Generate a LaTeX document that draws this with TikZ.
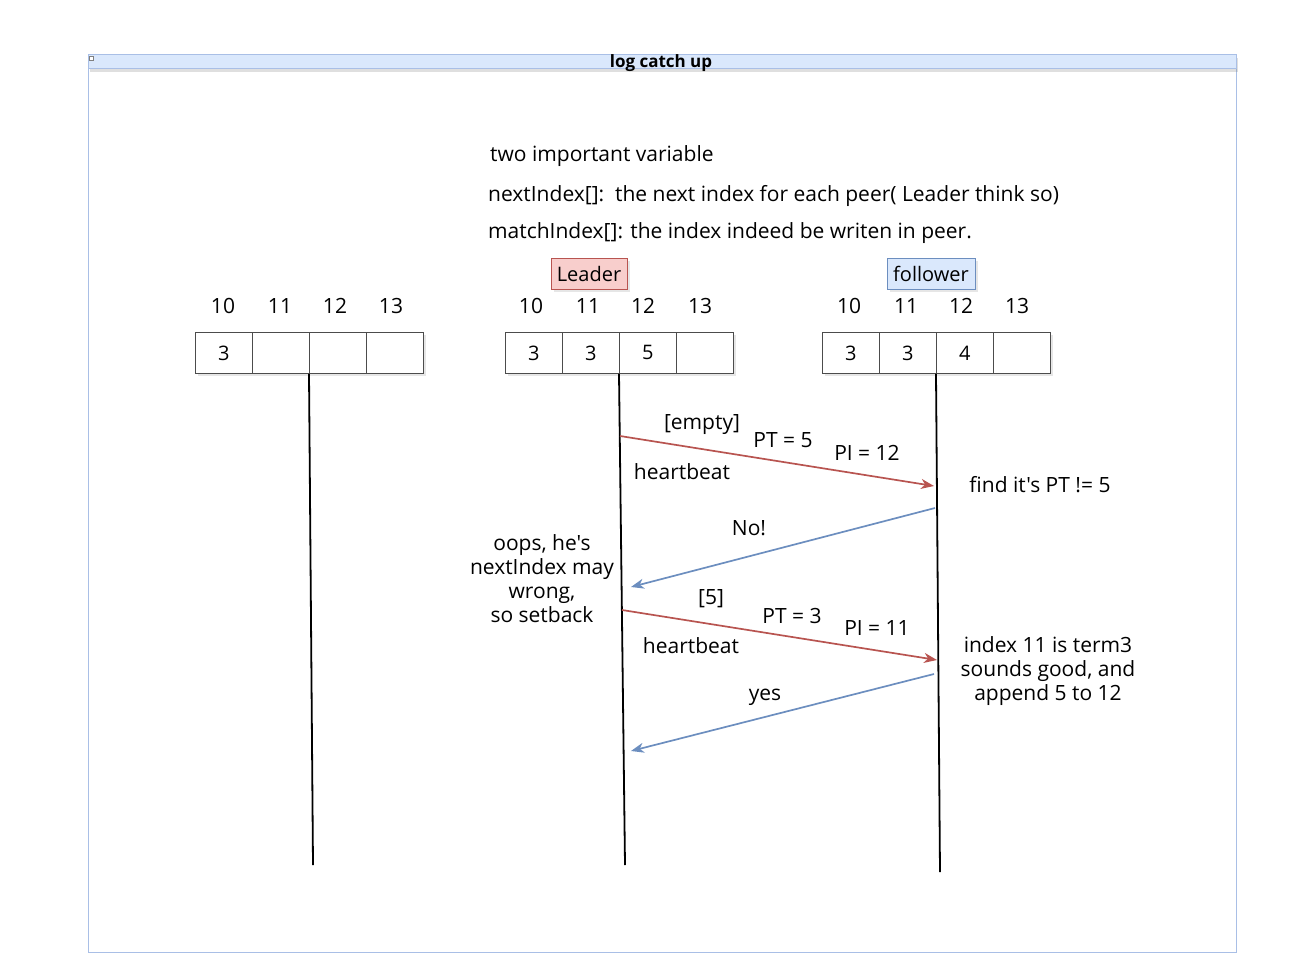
\documentclass[tikz,border=0pt]{standalone}
\usepackage{fontspec}
\setmainfont{Open Sans}[Ligatures=TeXOff]
\usetikzlibrary{arrows.meta,shadows}
\definecolor{redln}{HTML}{B85450}
\definecolor{redfill}{HTML}{F8CECC}
\definecolor{blueln}{HTML}{6C8EBF}
\definecolor{bluefill}{HTML}{DAE8FC}
\definecolor{framecol}{HTML}{A9BFE6}
\begin{document}
\begin{tikzpicture}[x=1pt,y=-1pt,
  txt/.style={font=\fontsize{21}{24}\selectfont, inner sep=0pt, text=black, align=center},
  cell/.style={draw=black!70, line width=0.8pt, minimum width=57pt, minimum height=41pt,
    inner sep=0pt, anchor=north west, font=\fontsize{20}{24}\selectfont, fill=white,
    drop shadow={opacity=0.2,shadow xshift=3pt,shadow yshift=-3pt}},
  life/.style={line width=1.8pt, black},
  req/.style={redln, line width=1.7pt, -{Stealth[length=13pt,width=10pt,inset=4pt]}},
  rep/.style={blueln, line width=1.7pt, -{Stealth[length=13pt,width=10pt,inset=4pt]}},
  tag/.style={font=\fontsize{20}{24}\selectfont, line width=0.8pt, minimum height=31pt, inner xsep=3pt,
    drop shadow={opacity=0.2,shadow xshift=3pt,shadow yshift=-3pt}}
]
\useasboundingbox (0,0) rectangle (1293,963);
% frame
\node[draw=framecol, line width=0.8pt, minimum width=1148pt, minimum height=898pt, inner sep=0pt, anchor=north west] (frame) at (88,54) {};
\node[draw=framecol, fill=bluefill, line width=0.8pt, minimum width=1148pt, minimum height=14pt, inner sep=0pt, anchor=north west,
  drop shadow={opacity=0.25,shadow xshift=2pt,shadow yshift=-4pt}] (bar) at (88,54) {};
\node[draw=black!50, fill=white, minimum width=4pt, minimum height=4pt, inner sep=0pt, line width=0.4pt] (icon) at (91,58) {};
\node[font=\fontsize{17}{20}\selectfont\bfseries, inner sep=0pt] (title) at (661,63) {log catch up};

% description
\node[txt, anchor=west] (d1) at (490,156) {two important variable};
\node[txt, anchor=west] (d2) at (488,196) {nextIndex[]:\ \ the next index for each peer( Leader think so)};
\node[txt, anchor=west] (d3) at (488,233) {matchIndex[]: the index indeed be writen in peer.};

% tags
\node[tag, draw=redln, fill=redfill, minimum width=76pt] (leader) at (589,273.5) {Leader};
\node[tag, draw=blueln, fill=bluefill, minimum width=88pt] (follower) at (931,273.5) {follower};

% index labels
\foreach \x/\n in {223/10,280/11,335/12,391/13} \node[txt] (li\n) at (\x,306) {\n};
\foreach \x/\n in {531/10,588/11,643/12,700/13} \node[txt] (mi\n) at (\x,306) {\n};
\foreach \x/\n in {849/10,906/11,961/12,1017/13} \node[txt] (fi\n) at (\x,306) {\n};

% arrays
\node[cell] (L1) at (195,332) {3};
\node[cell] (L2) at (252,332) {};
\node[cell] (L3) at (309,332) {};
\node[cell] (L4) at (366,332) {};
\node[cell] (M1) at (505,332) {3};
\node[cell] (M2) at (562,332) {3};
\node[cell] (M3) at (619,332) {\raisebox{2pt}{5}};
\node[cell] (M4) at (676,332) {};
\node[cell] (F1) at (822,332) {3};
\node[cell] (F2) at (879,332) {\raisebox{-2pt}{3}};
\node[cell] (F3) at (936,332) {4};
\node[cell] (F4) at (993,332) {};

% lifelines
\coordinate (Lend) at (313,865);
\coordinate (Mend) at (625,865);
\coordinate (Fend) at (940,872);
\draw[life] (L3.south west) -- (Lend);
\draw[life] (M3.south west) -- (Mend);
\draw[life] (F3.south west) -- (Fend);

% message end points
\coordinate (a1s) at (620,436);
\coordinate (a1e) at (934,486);
\coordinate (a2s) at (935,508);
\coordinate (a2e) at (631,587);
\coordinate (a3s) at (622,610);
\coordinate (a3e) at (937,660);
\coordinate (a4s) at (934,674);
\coordinate (a4e) at (631,751);
\draw[req] (a1s) -- (a1e);
\draw[rep] (a2s) -- (a2e);
\draw[req] (a3s) -- (a3e);
\draw[rep] (a4s) -- (a4e);

% message labels
\node[txt] (t1) at (702,425) {[empty]};
\node[txt] (t2) at (783,440) {PT = 5};
\node[txt] (t3) at (867,453) {PI = 12};
\node[txt] (t4) at (682,472) {heartbeat};
\node[txt] (t5) at (1040,485) {find it's PT != 5};
\node[txt] (t6) at (749,528) {No!};
\node[txt] (t7) at (542,579) {oops, he's\\nextIndex may\\wrong,\\so setback};
\node[txt] (t8) at (711,599) {[5]};
\node[txt] (t9) at (792,616) {PT = 3};
\node[txt] (t10) at (877,628) {PI = 11};
\node[txt] (t11) at (691,646) {heartbeat};
\node[txt] (t12) at (1048,671) {index 11 is term3\\sounds good, and\\append 5 to 12};
\node[txt] (t13) at (765,697) {yes};
\end{tikzpicture}
\end{document}
